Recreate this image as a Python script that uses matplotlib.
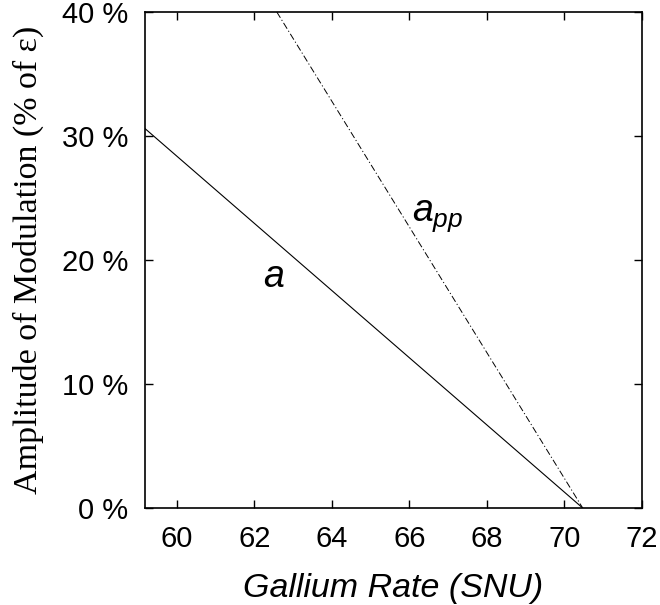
import numpy as np
import matplotlib
matplotlib.use("Agg")
import matplotlib.pyplot as plt

# gallium rate (SNU) vs amplitude of modulation (%)
rate_a = [59.18, 70.47]
amp_a = [30.6, 0.0]

rate_pp = [62.58, 70.47]
amp_pp = [40.0, 0.0]

xticks = [60, 62, 64, 66, 68, 70, 72]
yticks = [0, 10, 20, 30, 40]

plt.rcParams['font.family'] = ['Liberation Sans', 'DejaVu Sans']
plt.rcParams['mathtext.fontset'] = 'custom'
plt.rcParams['mathtext.it'] = 'Liberation Sans:italic'
plt.rcParams['mathtext.rm'] = 'Liberation Sans'

fig = plt.figure(figsize=(6.6, 6.05), dpi=100)
ax = fig.add_axes([145/660, 1 - 508/605, (642-145)/660, (508-12)/605])

ax.plot(rate_a, amp_a, color='black', lw=0.8)
ax.plot(rate_pp, amp_pp, color='black', lw=0.7, dashes=(7, 2.5, 1.2, 2.5))

ax.set_xlim(59.18, 72)
ax.set_ylim(0, 40)
ax.set_xticks(xticks)
ax.set_yticks(yticks)
ax.set_yticklabels([f'{v} %' for v in yticks])
ax.tick_params(direction='in', top=True, right=True, length=6, width=1,
               labelsize=21, pad=12)
for s in ax.spines.values():
    s.set_linewidth(1.2)

ax.set_xlabel('Gallium Rate (SNU)', fontsize=24.5, style='italic', labelpad=15)
ax.set_ylabel('Amplitude of Modulation (% of \u03b5)', fontsize=24.5,
              family=['Liberation Serif', 'DejaVu Serif'], labelpad=13)

ax.text(62.22, 17.8, 'a', fontsize=27, style='italic', ha='left', va='baseline')
ax.text(66.06, 23.17, '$a_{pp}$', fontsize=27, ha='left', va='baseline')

fig.savefig('out.png', dpi=100)
